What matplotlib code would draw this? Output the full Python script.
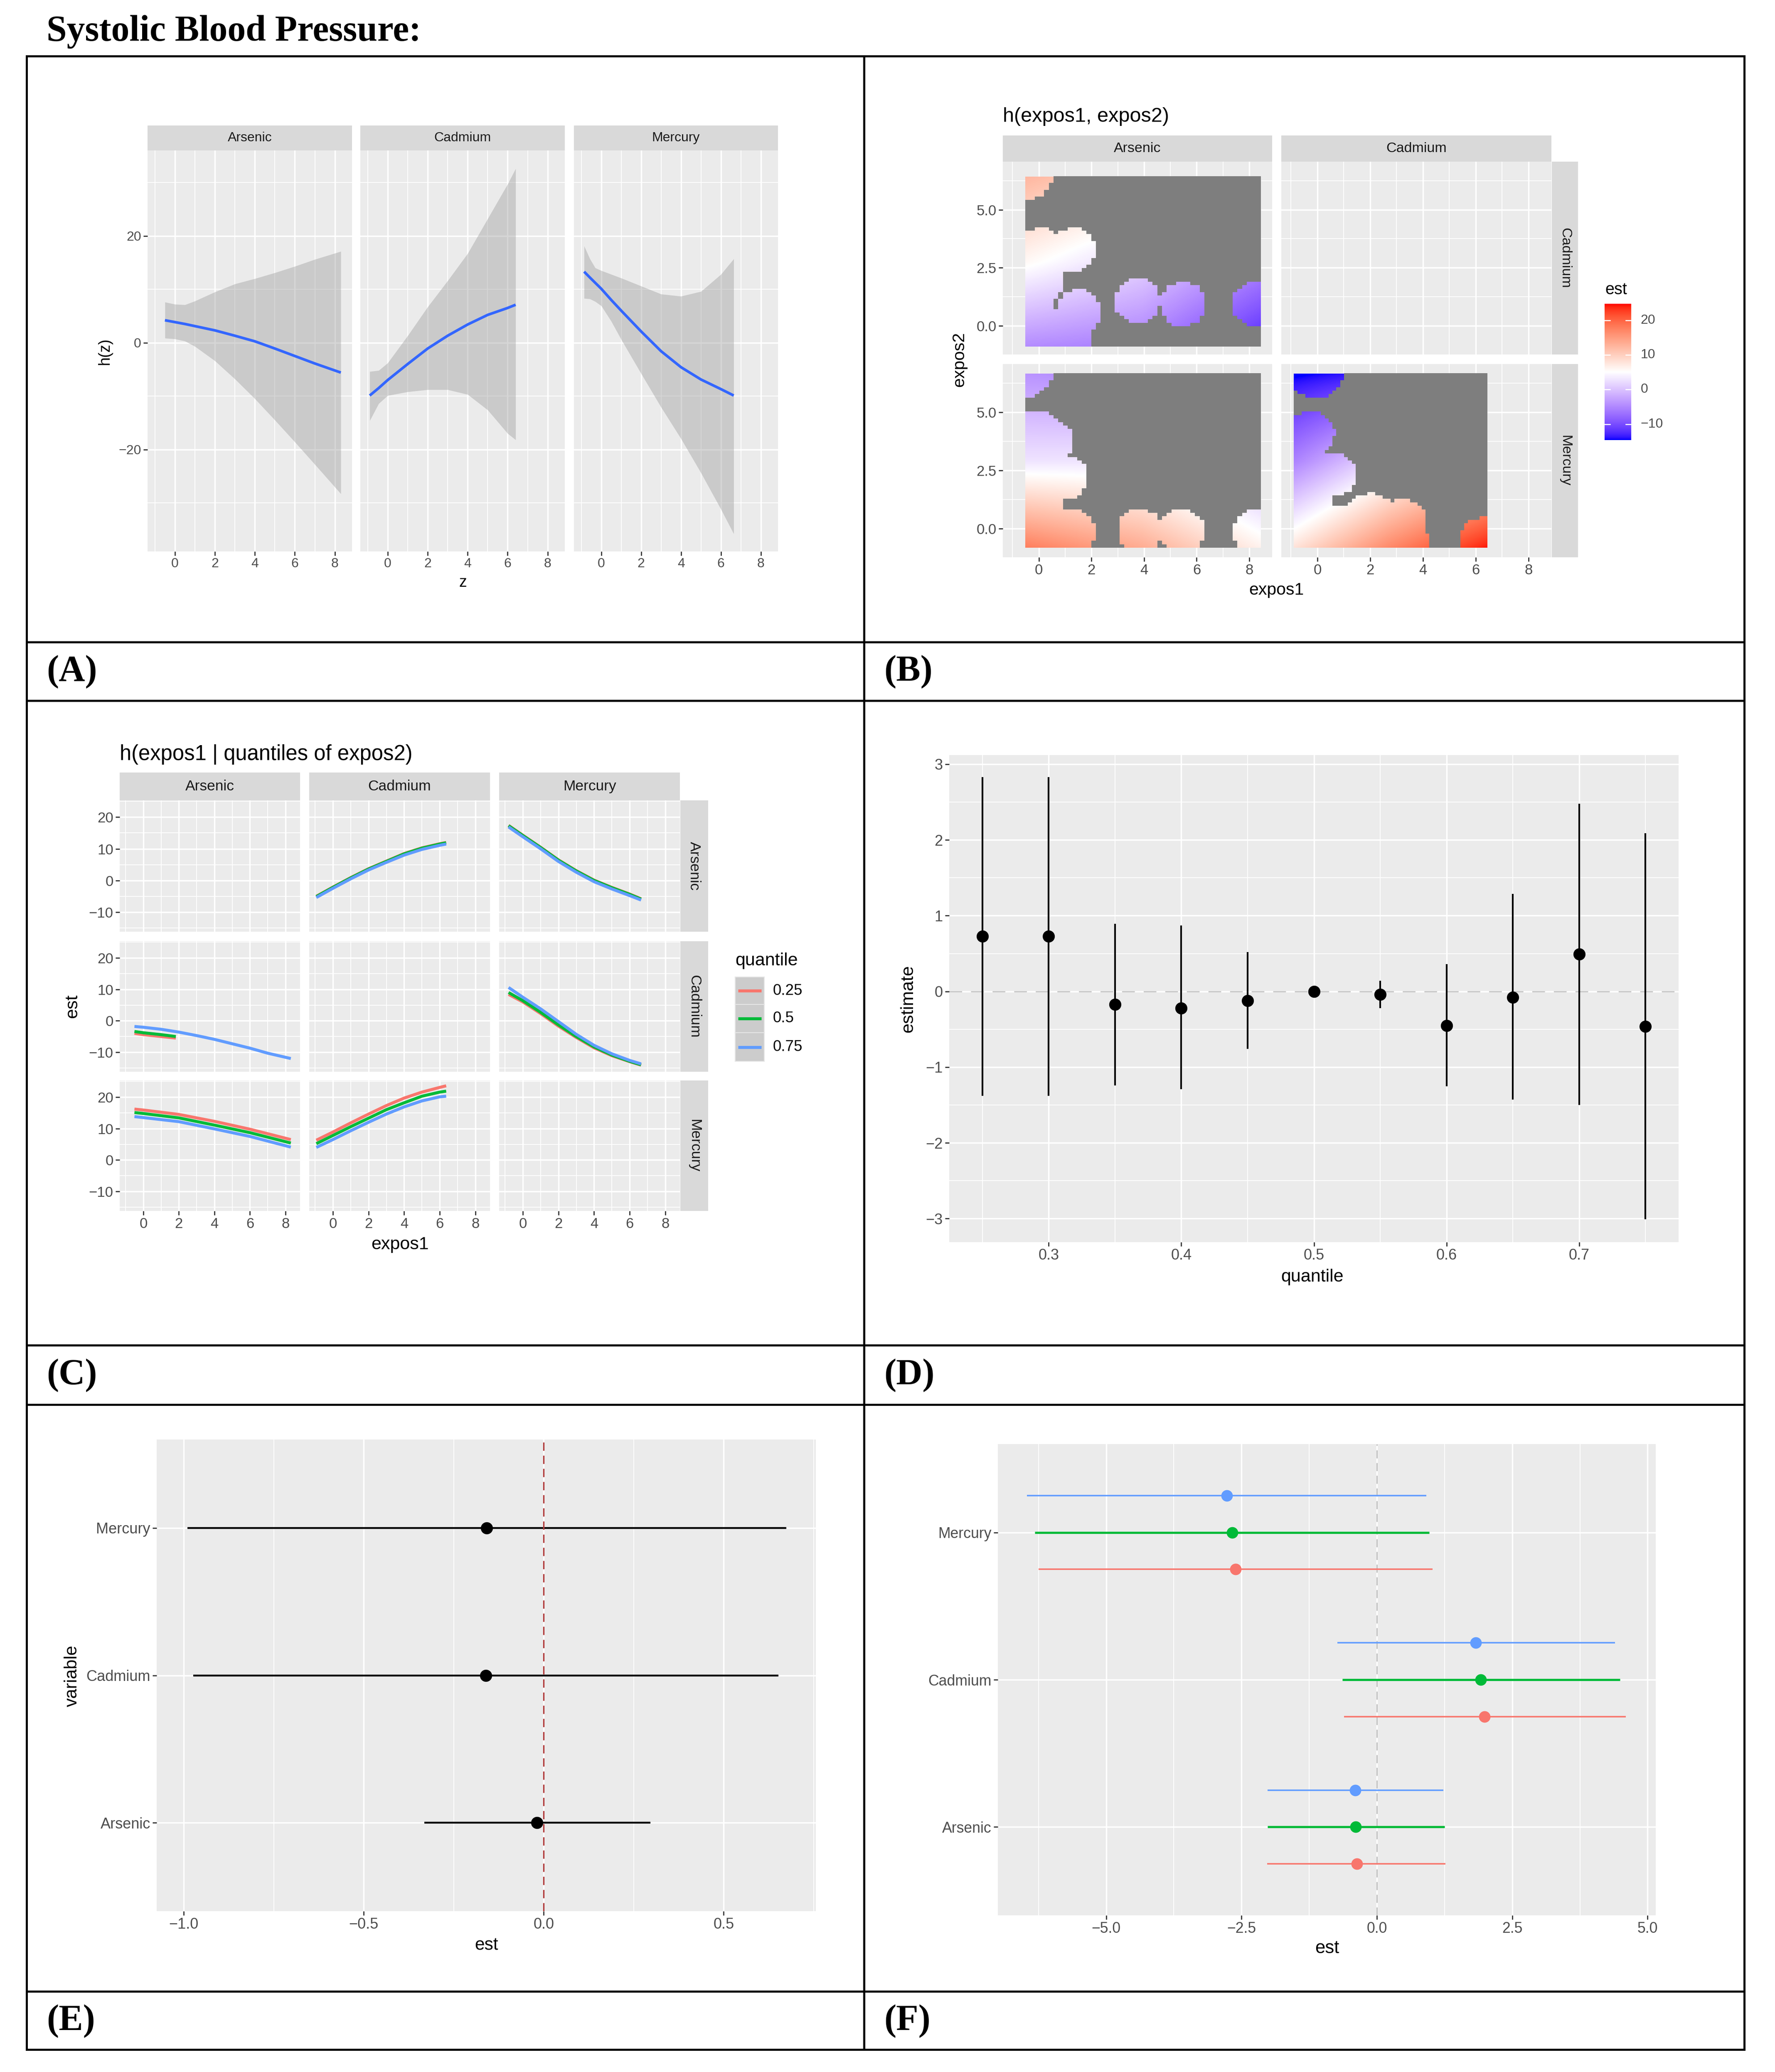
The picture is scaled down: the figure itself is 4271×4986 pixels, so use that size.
import numpy as np
import matplotlib
matplotlib.use("Agg")
import matplotlib.pyplot as plt
from matplotlib.colors import ListedColormap, Normalize
from matplotlib.patches import Rectangle
from matplotlib.lines import Line2D

# ============================ DATA ============================
metals = ["Arsenic", "Cadmium", "Mercury"]

# ---- (A) univariate exposure-response h(z) with 95% band ----
A_as_z = [-0.5, 0, 0.5, 1, 2, 3, 4, 5, 6, 7, 8.3]
A_as_est = [4.2, 3.85, 3.5, 3.1, 2.3, 1.3, 0.25, -1.1, -2.5, -3.9, -5.6]
A_as_lo = [0.85, 0.7, 0.3, -0.7, -3.4, -6.8, -10.5, -14.5, -18.6, -22.8, -28.3]
A_as_hi = [7.6, 7.2, 7.1, 7.8, 9.5, 11.0, 12.0, 13.1, 14.3, 15.6, 17.1]

A_cd_z = [-0.9, -0.45, 0, 1, 2, 3, 4, 5, 6, 6.4]
A_cd_est = [-9.9, -8.5, -7.0, -4.0, -1.1, 1.3, 3.4, 5.2, 6.5, 7.1]
A_cd_lo = [-14.6, -11.4, -9.9, -9.2, -8.8, -8.8, -9.7, -12.6, -17.0, -18.2]
A_cd_hi = [-5.4, -5.2, -3.8, 1.3, 6.7, 11.6, 16.7, 23.2, 29.7, 32.6]

A_hg_z = [-0.86, -0.57, -0.3, 0, 0.5, 1, 2, 3, 4, 5, 6, 6.64]
A_hg_est = [13.3, 12.2, 11.2, 10.1, 8.0, 6.0, 2.1, -1.6, -4.6, -6.9, -8.7, -9.9]
A_hg_lo = [8.3, 8.2, 7.7, 6.9, 4.0, 0.6, -5.8, -12.1, -18.0, -24.4, -31.2, -35.8]
A_hg_hi = [18.1, 15.7, 14.0, 13.5, 12.8, 12.1, 10.6, 9.1, 8.7, 9.6, 12.8, 15.7]

# ---- (B) bivariate surface h(expos1, expos2) ----
B_as_grid = [-0.51, 3.97, 8.45]
B_cd_grid = [-0.90, 2.765, 6.43]
B_hg_grid = [-0.83, 2.915, 6.66]
# rows follow expos2 (low -> high), columns follow expos1 (low -> high)
B_est_as_cd = [[-4.7, -6.0, -13.0], [5.8, 1.5, -5.0], [12.5, 9.0, 3.0]]
B_est_as_hg = [[18.0, 13.5, 6.5], [2.8, 3.0, -2.0], [-4.0, -5.0, -8.0]]
B_est_cd_hg = [[8.0, 17.0, 24.5], [-5.5, 3.0, 9.0], [-15.0, -13.0, -4.0]]
# neighbourhoods of observed exposure pairs (centre x, centre y, radius x, radius y)
B_obs_as_cd = [(-0.5, 6.6, 1.07, 1.2), (0.1, 3.25, 0.86, 0.96), (1.3, 3.25, 0.86, 0.96),
               (0.1, 1.9, 0.86, 0.96), (-0.1, 0.3, 0.86, 0.96), (-0.1, -0.7, 0.86, 0.96),
               (1.5, 0.6, 0.86, 0.96), (1.2, -0.5, 0.86, 0.96), (3.75, 1.07, 0.86, 0.96),
               (5.48, 0.93, 0.86, 0.96), (8.22, 0.93, 0.86, 0.96)]
B_obs_as_hg = [(-0.45, 6.75, 1.0, 1.1), (-0.1, 4.1, 0.86, 0.96), (0.45, 3.75, 0.86, 0.96),
               (1.0, 2.2, 0.86, 0.96), (0.0, 2.4, 0.86, 0.96), (0.1, 1.1, 0.86, 0.96),
               (0.2, -0.3, 0.86, 0.96), (1.3, -0.1, 0.86, 0.96), (3.85, -0.12, 0.86, 0.96),
               (5.45, -0.12, 0.86, 0.96), (8.25, -0.12, 0.86, 0.96)]
B_obs_cd_hg = [(-0.05, 6.6, 1.0, 1.0), (-0.3, 4.05, 0.95, 0.96), (0.55, 2.3, 0.95, 0.96),
               (-0.4, 2.6, 0.95, 0.96), (-0.4, 1.0, 0.95, 0.96), (-0.3, -0.3, 0.95, 0.96),
               (0.9, 0.0, 0.95, 0.96), (1.9, -0.5, 0.95, 0.96), (2.0, 0.55, 0.95, 0.96),
               (3.2, 0.3, 0.95, 0.96), (3.3, -0.6, 0.95, 0.96), (6.3, -0.5, 0.95, 0.96)]
B_est_range = [-14.6, 24.8]
B_legend_ticks = [-10, 0, 10, 20]

# ---- (C) h(expos1 | quantiles of expos2) ----
C_quantiles = ["0.25", "0.5", "0.75"]
C_x_as_long = [-0.5, 0, 1, 2, 3, 4, 5, 6, 7, 8.3]
C_x_as_short = [-0.5, 0, 1, 1.83]
C_x_as_hg = [-0.5, 0, 2, 4, 6, 8.3]
C_x_cd = [-0.93, 0, 1, 2, 3, 4, 5, 6, 6.36]
C_x_hg = [-0.8, 0, 1, 2, 3, 4, 5, 6, 6.64]
# expos1 = Cadmium, expos2 = Arsenic
C_cd_as_q25 = [-5.0, -2.1, 0.9, 3.7, 6.1, 8.5, 10.3, 11.6, 12.0]
C_cd_as_q50 = [-5.1, -2.2, 0.8, 3.6, 6.0, 8.4, 10.2, 11.5, 11.9]
C_cd_as_q75 = [-5.4, -2.5, 0.5, 3.3, 5.7, 8.0, 9.8, 11.1, 11.5]
# expos1 = Mercury, expos2 = Arsenic
C_hg_as_q25 = [17.4, 14.3, 10.5, 6.5, 3.1, 0.1, -2.2, -4.3, -5.8]
C_hg_as_q50 = [17.3, 14.2, 10.4, 6.4, 3.0, 0.0, -2.3, -4.4, -5.9]
C_hg_as_q75 = [16.9, 13.8, 10.0, 6.0, 2.6, -0.4, -2.7, -4.8, -6.2]
# expos1 = Arsenic, expos2 = Cadmium
C_as_cd_q25 = [-4.0, -4.4, -5.0, -5.5]
C_as_cd_q50 = [-3.4, -3.8, -4.4, -5.0]
C_as_cd_q75 = [-1.8, -2.05, -2.7, -3.6, -4.7, -5.9, -7.3, -8.7, -10.3, -12.0]
# expos1 = Mercury, expos2 = Cadmium
C_hg_cd_q25 = [8.4, 6.0, 2.3, -1.7, -5.3, -8.6, -11.1, -13.0, -14.1]
C_hg_cd_q50 = [9.0, 6.4, 2.7, -1.3, -5.0, -8.3, -10.9, -12.9, -14.0]
C_hg_cd_q75 = [10.6, 7.5, 3.8, -0.25, -4.3, -7.8, -10.5, -12.6, -13.7]
# expos1 = Arsenic, expos2 = Mercury
C_as_hg_q25 = [16.2, 15.9, 14.5, 12.3, 9.8, 6.5]
C_as_hg_q50 = [15.1, 14.8, 13.4, 11.1, 8.7, 5.4]
C_as_hg_q75 = [13.8, 13.5, 12.2, 9.9, 7.5, 4.1]
# expos1 = Cadmium, expos2 = Mercury
C_cd_hg_q25 = [6.3, 8.9, 11.8, 14.6, 17.3, 19.7, 21.6, 23.1, 23.6]
C_cd_hg_q50 = [5.2, 7.8, 10.6, 13.3, 16.0, 18.2, 20.3, 21.6, 21.9]
C_cd_hg_q75 = [4.0, 6.5, 9.3, 12.0, 14.6, 16.9, 18.8, 20.1, 20.3]

# ---- (D) overall mixture effect by quantile ----
D_quantile = [0.25, 0.30, 0.35, 0.40, 0.45, 0.50, 0.55, 0.60, 0.65, 0.70, 0.75]
D_est = [0.73, 0.73, -0.17, -0.22, -0.12, 0.0, -0.04, -0.45, -0.08, 0.49, -0.46]
D_lo = [-1.38, -1.38, -1.24, -1.29, -0.76, 0.0, -0.22, -1.25, -1.43, -1.50, -3.01]
D_hi = [2.83, 2.83, 0.89, 0.87, 0.52, 0.0, 0.14, 0.36, 1.29, 2.48, 2.09]

# ---- (E) single-variable effects (order: Arsenic, Cadmium, Mercury) ----
E_est = [-0.019, -0.161, -0.158]
E_lo = [-0.331, -0.973, -0.990]
E_hi = [0.296, 0.652, 0.674]

# ---- (F) single-variable effects at quantiles 0.25 / 0.5 / 0.75 ----
F_est_q25 = [-0.37, 1.99, -2.61]
F_lo_q25 = [-2.03, -0.61, -6.25]
F_hi_q25 = [1.27, 4.60, 1.03]
F_est_q50 = [-0.39, 1.92, -2.67]
F_lo_q50 = [-2.02, -0.64, -6.32]
F_hi_q50 = [1.25, 4.49, 0.97]
F_est_q75 = [-0.40, 1.83, -2.77]
F_lo_q75 = [-2.02, -0.73, -6.46]
F_hi_q75 = [1.23, 4.40, 0.91]

# ============================ STYLE ============================
W, H = 4271, 4986
plt.rcParams["font.family"] = ["Liberation Sans", "DejaVu Sans"]
plt.rcParams["axes.unicode_minus"] = True
SERIF = ["Liberation Serif", "DejaVu Serif"]
PANEL_BG = "#EBEBEB"
STRIP_BG = "#D9D9D9"
TICK_TXT = "#4D4D4D"
TICK_COL = "#333333"
STRIP_TXT = "#1A1A1A"
Q_COLS = ["#F8766D", "#00BA38", "#619CFF"]
MINUS = "\u2212"

fig = plt.figure(figsize=(W / 100, H / 100), dpi=100)


def add_ax(x0, y0, x1, y1):
    return fig.add_axes([x0 / W, 1 - y1 / H, (x1 - x0) / W, (y1 - y0) / H])


def ftext(x, y, s, **kw):
    fig.text(x / W, 1 - y / H, s, **kw)


def fmt(v, nd=0):
    s = f"{abs(v):.{nd}f}"
    return (MINUS + s) if v < 0 else s


def strip(x0, y0, x1, y1, label, size, rot=0):
    ax = add_ax(x0, y0, x1, y1)
    ax.set_facecolor(STRIP_BG)
    ax.set_xticks([]); ax.set_yticks([])
    for sp in ax.spines.values():
        sp.set_visible(False)
    ax.text(0.5, 0.5, label, ha="center", va="center", rotation=rot, fontsize=size,
            color=STRIP_TXT, transform=ax.transAxes)
    return ax


def gg_panel(box, xlim, ylim, xmaj, xmin, ymaj, ymin, xlab, ylab, size,
             showx=True, showy=True):
    ax = add_ax(*box)
    ax.set_facecolor(PANEL_BG)
    ax.set_xlim(*xlim); ax.set_ylim(*ylim)
    for sp in ax.spines.values():
        sp.set_visible(False)
    for v in xmin:
        ax.axvline(v, color="white", lw=1.3, zorder=0.2)
    for v in ymin:
        ax.axhline(v, color="white", lw=1.3, zorder=0.2)
    for v in xmaj:
        ax.axvline(v, color="white", lw=2.5, zorder=0.3)
    for v in ymaj:
        ax.axhline(v, color="white", lw=2.5, zorder=0.3)
    ax.set_xticks(xmaj); ax.set_yticks(ymaj)
    ax.set_xticklabels(xlab); ax.set_yticklabels(ylab)
    ax.tick_params(direction="out", length=7, width=2, color=TICK_COL,
                   labelsize=size, labelcolor=TICK_TXT, pad=4)
    if not showx:
        ax.tick_params(axis="x", length=0, labelbottom=False)
    if not showy:
        ax.tick_params(axis="y", length=0, labelleft=False)
    return ax


# Lab-space blue-white-red colour scale (as ggplot's gradientn)
def _srgb2lab(c):
    c = np.asarray(c, float)
    lin = np.where(c <= 0.04045, c / 12.92, ((c + 0.055) / 1.055) ** 2.4)
    M = np.array([[0.4124, 0.3576, 0.1805], [0.2126, 0.7152, 0.0722], [0.0193, 0.1192, 0.9505]])
    xyz = M @ lin / np.array([0.95047, 1.0, 1.08883])
    f = np.where(xyz > 0.008856, np.cbrt(xyz), 7.787 * xyz + 16 / 116)
    return np.array([116 * f[1] - 16, 500 * (f[0] - f[1]), 200 * (f[1] - f[2])])


def _lab2srgb(lab):
    L, a, b = lab
    fy = (L + 16) / 116; fx = fy + a / 500; fz = fy - b / 200
    f = np.array([fx, fy, fz])
    xyz = np.where(f ** 3 > 0.008856, f ** 3, (f - 16 / 116) / 7.787) * np.array([0.95047, 1.0, 1.08883])
    Mi = np.array([[3.2406, -1.5372, -0.4986], [-0.9689, 1.8758, 0.0415], [0.0557, -0.2040, 1.0570]])
    lin = Mi @ xyz
    c = np.where(lin <= 0.0031308, 12.92 * lin, 1.055 * np.clip(lin, 0, None) ** (1 / 2.4) - 0.055)
    return np.clip(c, 0, 1)


_blue, _white, _red = _srgb2lab([0, 0, 1]), _srgb2lab([1, 1, 1]), _srgb2lab([1, 0, 0])
_cols = []
for t in np.linspace(0, 1, 256):
    if t < 0.5:
        lab = _blue + (_white - _blue) * (t / 0.5)
    else:
        lab = _white + (_red - _white) * ((t - 0.5) / 0.5)
    _cols.append(_lab2srgb(lab))
BWR = ListedColormap(_cols)
BNORM = Normalize(vmin=B_est_range[0], vmax=B_est_range[1])

# ============================ TABLE FRAME ============================
ftext(112, 98, "Systolic Blood Pressure:", fontsize=63, fontweight="bold",
      family=SERIF, ha="left", va="baseline")
LX0, LXM, LX1 = 64, 2079, 4197
for yy in [135, 1545, 1686, 3237, 3380, 4792, 4932]:
    fig.add_artist(Line2D([LX0 / W, LX1 / W], [1 - yy / H, 1 - yy / H], color="black",
                          lw=3.6, transform=fig.transFigure))
for xx in [LX0, LXM, LX1]:
    fig.add_artist(Line2D([xx / W, xx / W], [1 - 135 / H, 1 - 4932 / H], color="black",
                          lw=3.6, transform=fig.transFigure))
for lab, (xx, yy) in zip(["(A)", "(B)", "(C)", "(D)", "(E)", "(F)"],
                         [(112, 1617), (2127, 1617), (112, 3310), (2127, 3310),
                          (112, 4864), (2127, 4864)]):
    ftext(xx, yy, lab, fontsize=63, fontweight="bold", family=SERIF, ha="left", va="center")

# ============================ PANEL A ============================
A_cols = [(355, 847), (867, 1359), (1381, 1872)]
A_data = [(A_as_z, A_as_est, A_as_lo, A_as_hi), (A_cd_z, A_cd_est, A_cd_lo, A_cd_hi),
          (A_hg_z, A_hg_est, A_hg_lo, A_hg_hi)]
xt = [0, 2, 4, 6, 8]
for i, ((x0, x1), name, (z, est, lo, hi)) in enumerate(zip(A_cols, metals, A_data)):
    strip(x0, 302, x1, 362, name, 23)
    ax = gg_panel((x0, 362, x1, 1327), (-1.37, 8.86), (-39.1, 36.0), xt, [-1, 1, 3, 5, 7],
                  [-20, 0, 20], [-30, -10, 10, 30], [str(v) for v in xt],
                  [fmt(v) for v in [-20, 0, 20]], 23, showy=(i == 0))
    ax.fill_between(z, lo, hi, color="#999999", alpha=0.4, lw=0, zorder=1)
    ax.plot(z, est, color="#3366FF", lw=4.6, zorder=2, solid_capstyle="butt",
            solid_joinstyle="round")
ftext(252, 846, "h(z)", fontsize=27, rotation=90, ha="center", va="center")
ftext(1114, 1402, "z", fontsize=27, ha="center", va="center")

# ============================ PANEL B ============================
ftext(2413, 293, "h(expos1, expos2)", fontsize=35, ha="left", va="baseline")
B_cols = [(2413, 3061), (3083, 3733)]
B_rows = [(389, 853), (876, 1341)]
B_xgrid = [B_as_grid, B_cd_grid]
B_ygrid = [B_cd_grid, B_hg_grid]
B_cells = {(0, 0): (B_est_as_cd, B_obs_as_cd), (1, 0): (B_est_as_hg, B_obs_as_hg),
           (1, 1): (B_est_cd_hg, B_obs_cd_hg)}
for c, (x0, x1) in enumerate(B_cols):
    strip(x0, 326, x1, 389, metals[c], 24.5)
for r, (y0, y1) in enumerate(B_rows):
    strip(3734, y0, 3797, y1, metals[r + 1], 24.5, rot=-90)
    for c, (x0, x1) in enumerate(B_cols):
        ax = gg_panel((x0, y0, x1, y1), (-1.37, 8.87), (-1.24, 7.07), xt, [-1, 1, 3, 5, 7],
                      [0, 2.5, 5.0], [-1.25, 1.25, 3.75, 6.25], [str(v) for v in xt],
                      ["0.0", "2.5", "5.0"], 25, showx=(r == 1), showy=(c == 0))
        if (r, c) not in B_cells:
            continue
        Z, obs = B_cells[(r, c)]
        gx, gy = np.array(B_xgrid[c]), np.array(B_ygrid[r])
        dx, dy = (gx[-1] - gx[0]) / (len(gx) - 1), (gy[-1] - gy[0]) / (len(gy) - 1)
        im = ax.imshow(np.array(Z), origin="lower", cmap=BWR, norm=BNORM,
                       extent=[gx[0] - dx / 2, gx[-1] + dx / 2, gy[0] - dy / 2, gy[-1] + dy / 2],
                       interpolation="bilinear", interpolation_stage="data",
                       aspect="auto", zorder=1)
        im.set_clip_path(Rectangle((gx[0], gy[0]), gx[-1] - gx[0], gy[-1] - gy[0],
                                   transform=ax.transData))
        n = 50
        ex = np.linspace(gx[0], gx[-1], n + 1); ey = np.linspace(gy[0], gy[-1], n + 1)
        X, Y = np.meshgrid((ex[:-1] + ex[1:]) / 2, (ey[:-1] + ey[1:]) / 2)
        inside = np.zeros_like(X, dtype=bool)
        for (cx, cy, rx, ry) in obs:
            inside |= ((X - cx) / rx) ** 2 + ((Y - cy) / ry) ** 2 <= 1
        rgba = np.zeros((n, n, 4))
        rgba[~inside] = (0.498, 0.498, 0.498, 1.0)
        ax.imshow(rgba, origin="lower", extent=[gx[0], gx[-1], gy[0], gy[-1]],
                  interpolation="nearest", aspect="auto", zorder=2)
        ax.set_xlim(-1.37, 8.87); ax.set_ylim(-1.24, 7.07)
ftext(2308, 865, "expos2", fontsize=29.5, rotation=90, ha="center", va="center")
ftext(3071, 1420, "expos1", fontsize=29.5, ha="center", va="center")
# colour bar
ftext(3862, 697, "est", fontsize=28.5, ha="left", va="center")
cb = add_ax(3861, 731, 3925, 1059)
vals = np.linspace(B_est_range[0], B_est_range[1], 400)
cb.imshow(vals[:, None], origin="lower", cmap=BWR, norm=BNORM, aspect="auto",
          extent=[0, 1, B_est_range[0], B_est_range[1]])
cb.set_xlim(0, 1); cb.set_ylim(*B_est_range)
cb.set_xticks([]); cb.set_yticks([])
for sp in cb.spines.values():
    sp.set_visible(False)
for t in B_legend_ticks:
    cb.plot([0, 0.2], [t, t], color="white", lw=1.8)
    cb.plot([0.8, 1], [t, t], color="white", lw=1.8)
    cb.text(1.35, t, fmt(t), fontsize=23, color=TICK_TXT, ha="left", va="center",
            transform=cb.get_yaxis_transform())

# ============================ PANEL C ============================
ftext(288, 1829, "h(expos1 | quantiles of expos2)", fontsize=36.5, ha="left", va="baseline")
C_cols = [(288, 722), (744, 1179), (1201, 1636)]
C_rows = [(1926, 2242), (2265, 2579), (2600, 2914)]
C_lines = {
    (0, 1): [(C_x_cd, C_cd_as_q25), (C_x_cd, C_cd_as_q50), (C_x_cd, C_cd_as_q75)],
    (0, 2): [(C_x_hg, C_hg_as_q25), (C_x_hg, C_hg_as_q50), (C_x_hg, C_hg_as_q75)],
    (1, 0): [(C_x_as_short, C_as_cd_q25), (C_x_as_short, C_as_cd_q50), (C_x_as_long, C_as_cd_q75)],
    (1, 2): [(C_x_hg, C_hg_cd_q25), (C_x_hg, C_hg_cd_q50), (C_x_hg, C_hg_cd_q75)],
    (2, 0): [(C_x_as_hg, C_as_hg_q25), (C_x_as_hg, C_as_hg_q50), (C_x_as_hg, C_as_hg_q75)],
    (2, 1): [(C_x_cd, C_cd_hg_q25), (C_x_cd, C_cd_hg_q50), (C_x_cd, C_cd_hg_q75)],
}
for c, (x0, x1) in enumerate(C_cols):
    strip(x0, 1859, x1, 1926, metals[c], 25.5)
for r, (y0, y1) in enumerate(C_rows):
    strip(1637, y0, 1704, y1, metals[r], 25.5, rot=-90)
    for c, (x0, x1) in enumerate(C_cols):
        ax = gg_panel((x0, y0, x1, y1), (-1.33, 8.82), (-16.2, 25.3), xt, [-1, 1, 3, 5, 7],
                      [-10, 0, 10, 20], [-15, -5, 5, 15, 25], [str(v) for v in xt],
                      [fmt(v) for v in [-10, 0, 10, 20]], 25, showx=(r == 2), showy=(c == 0))
        for (xx, yy), col in zip(C_lines.get((r, c), []), Q_COLS):
            ax.plot(xx, yy, color=col, lw=5.2, zorder=2, solid_capstyle="butt",
                    solid_joinstyle="round")
ftext(174, 2421, "est", fontsize=31, rotation=90, ha="center", va="center")
ftext(962, 2995, "expos1", fontsize=31, ha="center", va="center")
ftext(1769, 2312, "quantile", fontsize=31, ha="left", va="center")
key_y = [(2351, 2417), (2417, 2485), (2485, 2554)]
for (ky0, ky1), col, lab in zip(key_y, Q_COLS, C_quantiles):
    kax = add_ax(1769, ky0, 1839, ky1)
    kax.set_facecolor("#CCCCCC")
    kax.set_xticks([]); kax.set_yticks([])
    for sp in kax.spines.values():
        sp.set_color("#E6E6E6"); sp.set_linewidth(1.5)
    kax.set_xlim(0, 1); kax.set_ylim(0, 1)
    kax.plot([0.1, 0.9], [0.5, 0.5], color=col, lw=5.2, solid_capstyle="butt")
    ftext(1860, (ky0 + ky1) / 2, lab, fontsize=26.5, ha="left", va="center")

# ============================ PANEL D ============================
dx_maj = [0.3, 0.4, 0.5, 0.6, 0.7]
dy_maj = [-3, -2, -1, 0, 1, 2, 3]
ax = gg_panel((2284, 1817, 4039, 2989), (0.225, 0.775), (-3.31, 3.12), dx_maj,
              [0.25, 0.35, 0.45, 0.55, 0.65, 0.75], dy_maj, [-2.5, -1.5, -0.5, 0.5, 1.5, 2.5],
              [f"{v:.1f}" for v in dx_maj], [fmt(v) for v in dy_maj], 26)
ax.axhline(0, color="#C8C8C8", lw=2.2, ls=(0, (10, 7)), zorder=1)
ax.vlines(D_quantile, D_lo, D_hi, color="black", lw=3, zorder=2)
ax.plot(D_quantile, D_est, "o", color="black", ms=20, zorder=3)
ftext(2185, 2404, "estimate", fontsize=31, rotation=90, ha="center", va="center")
ftext(3158, 3073, "quantile", fontsize=31, ha="center", va="center")

# ============================ PANEL E ============================
ex_maj = [-1.0, -0.5, 0.0, 0.5]
ax = gg_panel((377, 3464, 1963, 4599), (-1.075, 0.756), (0.4, 3.6), ex_maj,
              [-0.75, -0.25, 0.25, 0.75], [1, 2, 3], [], [fmt(v, 1) for v in ex_maj],
              metals, 26)
ypos = np.arange(1, len(metals) + 1)
ax.hlines(ypos, E_lo, E_hi, color="black", lw=3.2, zorder=2)
ax.axvline(0, color="#B03A3A", lw=2.4, ls=(0, (6, 3.5)), zorder=2.5)
ax.plot(E_est, ypos, "o", color="black", ms=20, zorder=3)
ftext(174, 4033, "variable", fontsize=30.5, rotation=90, ha="center", va="center")
ftext(1171, 4681, "est", fontsize=30.5, ha="center", va="center")

# ============================ PANEL F ============================
fx_maj = [-5.0, -2.5, 0.0, 2.5, 5.0]
ax = gg_panel((2401, 3475, 3984, 4609), (-7.0, 5.15), (0.4, 3.6), fx_maj,
              [-6.25, -3.75, -1.25, 1.25, 3.75], [1, 2, 3], [], [fmt(v, 1) for v in fx_maj],
              metals, 25.7)
ax.axvline(0, color="#BEBEBE", lw=2.0, ls=(0, (7, 4)), zorder=1)
F_sets = [(F_est_q25, F_lo_q25, F_hi_q25), (F_est_q50, F_lo_q50, F_hi_q50),
          (F_est_q75, F_lo_q75, F_hi_q75)]
for k, ((est, lo, hi), col) in enumerate(zip(F_sets, Q_COLS)):
    yy = ypos + (k - 1) * 0.25
    ax.hlines(yy, lo, hi, color=col, lw=(3.8 if k == 1 else 2.6), zorder=2)
    ax.plot(est, yy, "o", color=col, ms=19, zorder=3)
ftext(3193, 4689, "est", fontsize=31.5, ha="center", va="center")

fig.savefig("out.png", dpi=100)
